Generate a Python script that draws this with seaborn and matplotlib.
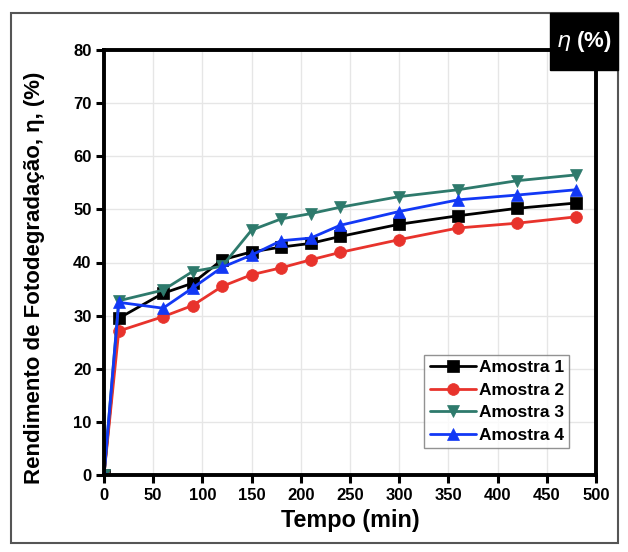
import numpy as np
import pandas as pd
import matplotlib
matplotlib.use("Agg")
import matplotlib.pyplot as plt
import seaborn as sns
from matplotlib.patches import Rectangle

# ---- data ----
tempo = [0, 15, 60, 90, 120, 150, 180, 210, 240, 300, 360, 420, 480]
amostra1 = [0, 29.5, 34.2, 36.1, 40.5, 42.0, 42.9, 43.6, 44.9, 47.2, 48.8, 50.2, 51.2]
amostra2 = [0, 27.1, 29.8, 31.9, 35.5, 37.7, 39.0, 40.5, 41.9, 44.3, 46.5, 47.4, 48.6]
amostra3 = [0, 32.8, 34.8, 38.3, 39.3, 46.1, 48.2, 49.2, 50.4, 52.4, 53.7, 55.4, 56.5]
amostra4 = [0, 32.5, 31.4, 35.2, 39.1, 41.4, 44.1, 44.6, 47.0, 49.6, 51.8, 52.7, 53.7]
series_names = ["Amostra 1", "Amostra 2", "Amostra 3", "Amostra 4"]
x_ticks = [0, 50, 100, 150, 200, 250, 300, 350, 400, 450, 500]
y_ticks = [0, 10, 20, 30, 40, 50, 60, 70, 80]

colors = {"Amostra 1": "#000000", "Amostra 2": "#e8332c",
          "Amostra 3": "#2e7a6c", "Amostra 4": "#1238f5"}
markers = {"Amostra 1": "s", "Amostra 2": "o", "Amostra 3": "v", "Amostra 4": "^"}

df = pd.DataFrame({
    "Tempo": tempo * 4,
    "Valor": amostra1 + amostra2 + amostra3 + amostra4,
    "Serie": sum([[n] * len(tempo) for n in series_names], []),
})

sns.set_theme(style="whitegrid")
plt.rcParams["font.family"] = ["Liberation Sans", "DejaVu Sans"]
plt.rcParams["text.color"] = "black"
plt.rcParams["axes.labelcolor"] = "black"
plt.rcParams["xtick.color"] = "black"
plt.rcParams["ytick.color"] = "black"

fig = plt.figure(figsize=(6.28, 5.52), dpi=100)
W, H = 628, 552
ax = fig.add_axes([104 / W, 1 - 475 / H, (596 - 104) / W, (475 - 50) / H])

sns.lineplot(data=df, x="Tempo", y="Valor", hue="Serie", style="Serie",
             palette=colors, markers=markers, dashes=False, ax=ax,
             linewidth=2.0, markersize=8.5, markeredgewidth=0.5,
             legend=True)
for line in ax.lines:
    line.set_markeredgecolor(line.get_color())

ax.set_xlim(0, 500)
ax.set_ylim(0, 80)
ax.set_xticks(x_ticks)
ax.set_yticks(y_ticks)
ax.tick_params(axis="both", which="major", direction="out", length=6, width=2.2,
               color="black", labelcolor="black", labelsize=12, pad=3,
               bottom=True, left=True)
for lab in ax.get_xticklabels() + ax.get_yticklabels():
    lab.set_fontweight("bold")
ax.grid(True, color="#e6e6e6", linewidth=1.0)
for s in ax.spines.values():
    s.set_color("black")
    s.set_linewidth(2.8)
ax.set_facecolor("white")

ax.set_xlabel("Tempo (min)", fontsize=16.8, fontweight="bold", labelpad=5)
ax.set_ylabel("Rendimento de Fotodegradação, η, (%)", fontsize=16,
              fontweight="bold")
ax.yaxis.set_label_coords(-0.12, 0.465)

leg = ax.legend(loc="lower right", bbox_to_anchor=(0.946, 0.064), fontsize=12.5,
                frameon=True, handlelength=2.7, borderpad=0.3, labelspacing=0.42,
                handletextpad=0.15, borderaxespad=0.0, fancybox=False)
leg.get_frame().set_edgecolor("#777777")
leg.get_frame().set_linewidth(1.0)
for t in leg.get_texts():
    t.set_fontweight("bold")
for h in leg.legend_handles:
    h.set_markeredgecolor(h.get_color())
    h.set_markersize(8.5)
    h.set_linewidth(2.0)

# outer frame
fig.patches.append(Rectangle((11 / W, 1 - 543 / H), (618 - 11) / W, (543 - 13) / H,
                             transform=fig.transFigure, fill=False,
                             edgecolor="#555555", linewidth=1.5, zorder=0))
# label box top right
fig.patches.append(Rectangle((550 / W, 1 - 70 / H), (618 - 550) / W, (70 - 13) / H,
                             transform=fig.transFigure, facecolor="black",
                             edgecolor="black", zorder=5))
fig.text(584 / W, 1 - 42 / H, r"$\eta$ (%)", color="white", fontsize=16,
         fontweight="bold", ha="center", va="center", zorder=6)

fig.savefig("out.png", dpi=100, facecolor="white")
